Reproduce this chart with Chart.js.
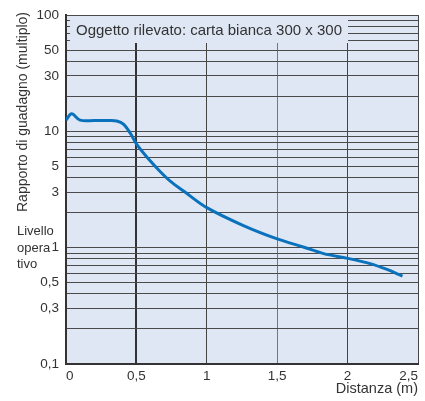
<!DOCTYPE html>
<html lang="it">
<head>
  <meta charset="UTF-8">
  <title>Rapporto di guadagno - Distanza</title>
  <style>
    body {
      margin: 0;
      background: #fff;
    }

    canvas {
      display: block;
    }
  </style>
  <script src="https://cdn.jsdelivr.net/npm/chart.js"></script>
</head>
<body>

  <canvas id="gainChart" width="425" height="401"></canvas>

  <script>
    // Curva: distanza (m) e rapporto di guadagno (multiplo)
    const distanza = [0, 0.04, 0.1, 0.2, 0.3, 0.36, 0.41, 0.46, 0.5, 0.58, 0.67, 0.74, 0.84, 1.0, 1.26, 1.5, 1.69, 1.83, 2.0, 2.16, 2.28, 2.39];
    const guadagno = [12.5, 14.2, 12.5, 12.4, 12.4, 12.3, 11.5, 9.5, 7.8, 5.9, 4.5, 3.74, 3.04, 2.21, 1.55, 1.19, 1.01, 0.89, 0.81, 0.73, 0.65, 0.57];

    // Griglia logaritmica e tacche con etichetta
    const yGrid = [0.1, 0.2, 0.3, 0.4, 0.5, 0.6, 0.7, 0.8, 0.9,
                   1, 2, 3, 4, 5, 6, 7, 8, 9,
                   10, 20, 30, 40, 50, 60, 70, 80, 90, 100];
    const yLabels = [0.1, 0.3, 0.5, 1, 3, 5, 10, 30, 50, 100];
    const xTicks = [0, 0.5, 1, 1.5, 2, 2.5];

    const FONT = "'Liberation Sans', Arial, sans-serif";
    const TEXT = '#333';
    const AREA = '#dfe7f4';

    const fmt = v => String(v).replace('.', ',');

    // sfondo azzurro dell'area del grafico
    const plotBackground = {
      id: 'plotBackground',
      beforeDraw(chart) {
        const { ctx, chartArea: a } = chart;
        ctx.save();
        ctx.fillStyle = AREA;
        ctx.fillRect(a.left, a.top, a.width, a.height);
        ctx.restore();
      }
    };

    // riquadro con l'oggetto rilevato, titolo asse y e nota "Livello operativo"
    const annotations = {
      id: 'annotations',
      afterDatasetsDraw(chart) {
        const { ctx, chartArea: a } = chart;
        ctx.save();

        ctx.fillStyle = AREA;
        ctx.fillRect(a.left + 4, 16, 348 - a.left - 4, 27);
        ctx.fillStyle = TEXT;
        ctx.font = '15px ' + FONT;
        ctx.textAlign = 'left';
        ctx.textBaseline = 'alphabetic';
        ctx.fillText('Oggetto rilevato: carta bianca 300 x 300', 76, 35);

        ctx.font = '13px ' + FONT;
        ctx.fillText('Livello', 17, 235);
        ctx.fillText('opera', 17, 251.5);
        ctx.fillText('tivo', 17, 268);

        ctx.translate(23, 112);
        ctx.rotate(-Math.PI / 2);
        ctx.font = '14px ' + FONT;
        ctx.textAlign = 'center';
        ctx.textBaseline = 'middle';
        ctx.fillText('Rapporto di guadagno (multiplo)', 0, 0);

        ctx.restore();
      }
    };

    const ctx = document.getElementById('gainChart').getContext('2d');
    const chart = new Chart(ctx, {
      type: 'line',
      data: {
        datasets: [{
          data: distanza.map((d, i) => ({ x: d, y: guadagno[i] })),
          borderColor: '#0a72bd',
          borderWidth: 3,
          pointRadius: 0,
          fill: false,
          tension: 0.35
        }]
      },
      options: {
        responsive: false,
        animation: false,
        layout: { padding: { top: 14, right: 7, left: 0, bottom: 0 } },
        plugins: {
          legend: { display: false },
          tooltip: { enabled: false }
        },
        scales: {
          x: {
            type: 'linear',
            min: 0,
            max: 2.5,
            afterBuildTicks: s => { s.ticks = xTicks.map(v => ({ value: v })); },
            afterFit: s => { s.height = 37; },
            ticks: {
              autoSkip: false,
              maxRotation: 0,
              align: 'inner',
              padding: 4,
              color: TEXT,
              font: { family: FONT, size: 13.5 },
              callback: v => fmt(v)
            },
            grid: {
              drawTicks: false,
              color: c => (c.tick && c.tick.value === 0.5) ? '#333' : (c.tick && c.tick.value === 1.5 ? '#777' : '#444'),
              lineWidth: c => (c.tick && c.tick.value === 0.5) ? 2 : 1
            },
            border: { color: '#333', width: 2 },
            title: {
              display: true,
              text: 'Distanza (m)',
              align: 'end',
              color: TEXT,
              font: { family: FONT, size: 14.5 },
              padding: { top: 0, bottom: 3 }
            }
          },
          y: {
            type: 'logarithmic',
            min: 0.1,
            max: 100,
            afterBuildTicks: s => { s.ticks = yGrid.map(v => ({ value: v })); },
            afterFit: s => { s.width = 66; },
            ticks: {
              autoSkip: false,
              padding: 7,
              color: TEXT,
              font: { family: FONT, size: 13.5 },
              callback: v => yLabels.includes(v) ? fmt(v) : ''
            },
            grid: {
              drawTicks: false,
              color: '#4a4a4a',
              lineWidth: 1
            },
            border: { color: '#333', width: 2 }
          }
        }
      },
      plugins: [plotBackground, annotations]
    });
  </script>

</body>
</html>
